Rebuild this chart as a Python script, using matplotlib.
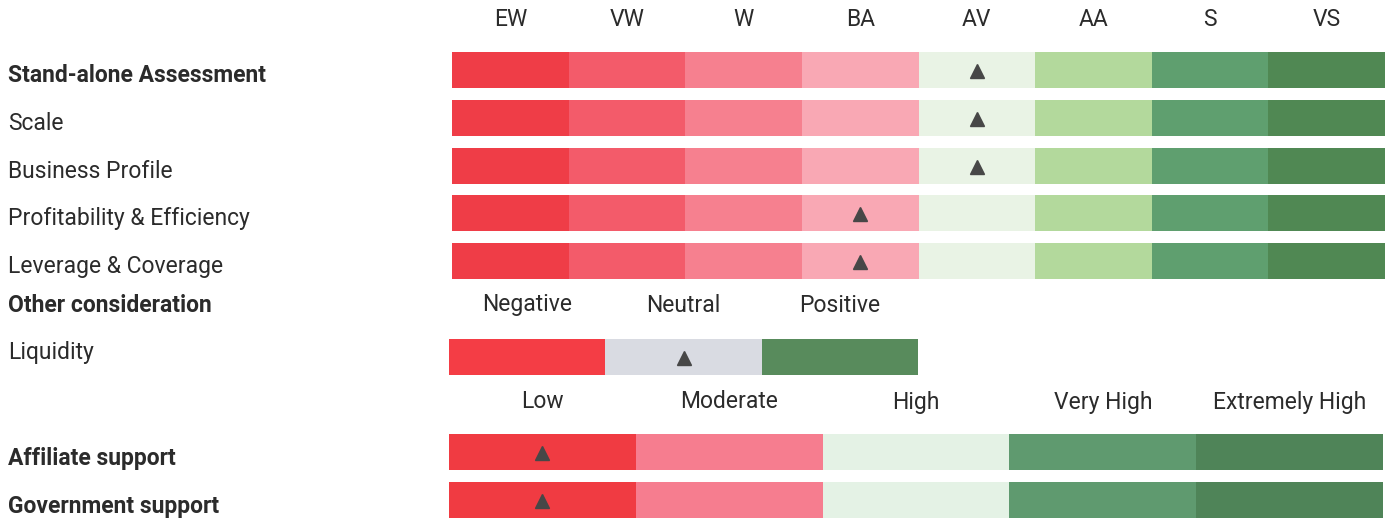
import numpy as np
import matplotlib.pyplot as plt

plt.rcParams['font.family'] = ['Roboto', 'DejaVu Sans']

rating_scale = ["EW", "VW", "W", "BA", "AV", "AA", "S", "VS"]
rating_colors = ["#ef3d47", "#f35b6a", "#f6808f", "#f9a8b4", "#e9f3e5", "#b3d99c", "#5f9f6f", "#508853"]
factors = ["Stand-alone Assessment", "Scale", "Business Profile",
           "Profitability & Efficiency", "Leverage & Coverage"]
factor_bold = [True, False, False, False, False]
factor_scores = ["AV", "AV", "AV", "BA", "BA"]

liquidity_scale = ["Negative", "Neutral", "Positive"]
liquidity_colors = ["#f43d45", "#d9dbe2", "#588b5c"]
liquidity_score = "Neutral"

support_scale = ["Low", "Moderate", "High", "Very High", "Extremely High"]
support_colors = ["#f03b42", "#f67d8f", "#e4f2e5", "#5f9a6f", "#4f8458"]
support_rows = ["Affiliate support", "Government support"]
support_scores = ["Low", "Low"]

# layout in pixels
W, H = 1394, 519
fig = plt.figure(figsize=(W / 100, H / 100), dpi=100)
ax = fig.add_axes([0, 0, 1, 1])
ax.set_xlim(0, W)
ax.set_ylim(H, 0)
ax.axis('off')

text_col = "#2b2b2b"
fs = 16.5
bar_h = 36
tri = dict(marker='^', color='#474747', markersize=10, linestyle='none')


def draw_scale(x0, x1, scale, colors, header_y, rows_y, scores):
    w = (x1 - x0) / len(scale)
    lefts = x0 + np.arange(len(scale)) * w
    for i, lab in enumerate(scale):
        ax.text(lefts[i] + w / 2, header_y, lab, ha='center', va='center',
                fontsize=fs, color=text_col)
    for y, score in zip(rows_y, scores):
        ax.barh(np.full(len(scale), y), w, left=lefts, height=bar_h,
                color=colors, linewidth=0)
        k = scale.index(score)
        ax.plot(lefts[k] + w / 2, y + 1, **tri)


# rating factors
factor_y = [70, 118, 166, 213, 261]
draw_scale(452, 1385, rating_scale, rating_colors, 19, factor_y, factor_scores)
for y, name, b in zip(factor_y, factors, factor_bold):
    ax.text(8, y + 5, name, ha='left', va='center', fontsize=fs, color=text_col,
            fontweight='bold' if b else 'normal')

# liquidity
ax.text(8, 305, "Other consideration", ha='left', va='center', fontsize=fs,
        color=text_col, fontweight='bold')
draw_scale(449, 918, liquidity_scale, liquidity_colors, 305, [357], [liquidity_score])
ax.text(8, 353, "Liquidity", ha='left', va='center', fontsize=fs, color=text_col)

# support
support_y = [452, 500]
draw_scale(449, 1383, support_scale, support_colors, 402, support_y, support_scores)
for y, name in zip(support_y, support_rows):
    ax.text(8, y + 7, name, ha='left', va='center', fontsize=fs, color=text_col,
            fontweight='bold')

fig.savefig("out.png", dpi=100)
